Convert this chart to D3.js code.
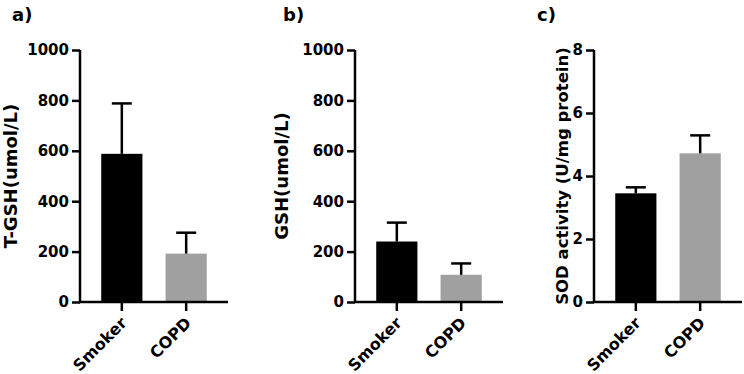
<!DOCTYPE html>
<html>
<head>
<meta charset="utf-8">
<script src="https://cdn.jsdelivr.net/npm/d3@7"></script>
<style>
  body { margin: 0; background: #fff; }
  text { font-family: "DejaVu Sans", sans-serif; font-weight: bold; fill: #000; }
</style>
</head>
<body>
<svg id="chart" width="744" height="374"></svg>
<script>
const groups = ["Smoker", "COPD"];
const colors = ["#000000", "#a0a0a0"];

// panel a) T-GSH
const tgshMean = [588, 192];
const tgshErr = [200, 83];
const tgshTicks = [0, 200, 400, 600, 800, 1000];

// panel b) GSH
const gshMean = [240, 108];
const gshErr = [75, 45];
const gshTicks = [0, 200, 400, 600, 800, 1000];

// panel c) SOD
const sodMean = [3.45, 4.72];
const sodErr = [0.19, 0.57];
const sodTicks = [0, 2, 4, 6, 8];

const svg = d3.select("#chart");

const panels = [
  { tag: "a)", tagX: 12, axisX: 80, ylab: "T-GSH(umol/L)", ylabX: 17, ylabSize: 18, mean: tgshMean, err: tgshErr, ticks: tgshTicks, max: 1000 },
  { tag: "b)", tagX: 283, axisX: 355, ylab: "GSH(umol/L)", ylabX: 288, ylabSize: 18, mean: gshMean, err: gshErr, ticks: gshTicks, max: 1000 },
  { tag: "c)", tagX: 537, axisX: 594, ylab: "SOD activity (U/mg protein)", ylabX: 568, ylabSize: 16.5, mean: sodMean, err: sodErr, ticks: sodTicks, max: 8 }
];

const yTop = 50, yBottom = 302;

panels.forEach(p => {
  const g = svg.append("g");

  const x = d3.scaleBand()
    .domain(groups)
    .range([p.axisX, p.axisX + 148])
    .paddingInner(0.36)
    .paddingOuter(0.33);

  const y = d3.scaleLinear()
    .domain([0, p.max])
    .range([yBottom, yTop]);

  // bars
  g.selectAll("rect.bar")
    .data(groups)
    .enter()
    .append("rect")
    .attr("class", "bar")
    .attr("x", d => x(d))
    .attr("width", x.bandwidth())
    .attr("y", (d, i) => y(p.mean[i]))
    .attr("height", (d, i) => y(0) - y(p.mean[i]))
    .attr("fill", (d, i) => colors[i]);

  // error bars (upper only)
  groups.forEach((d, i) => {
    const cx = x(d) + x.bandwidth() / 2;
    g.append("line")
      .attr("x1", cx).attr("x2", cx)
      .attr("y1", y(p.mean[i])).attr("y2", y(p.mean[i] + p.err[i]))
      .attr("stroke", "#000").attr("stroke-width", 2.5);
    g.append("line")
      .attr("x1", cx - 10).attr("x2", cx + 10)
      .attr("y1", y(p.mean[i] + p.err[i])).attr("y2", y(p.mean[i] + p.err[i]))
      .attr("stroke", "#000").attr("stroke-width", 2.5);
  });

  // y axis
  const yAxis = g.append("g")
    .attr("transform", `translate(${p.axisX},0)`)
    .call(d3.axisLeft(y).tickValues(p.ticks).tickSize(8).tickPadding(3).tickFormat(d3.format("d")));
  yAxis.select(".domain").attr("stroke-width", 2.5).attr("d", `M0,${yTop}V${yBottom}`);
  yAxis.selectAll(".tick line").attr("stroke-width", 2.5);
  yAxis.selectAll(".tick text").style("font-size", "15px").attr("font-family", null);

  // x axis
  const xAxis = g.append("g")
    .attr("transform", `translate(0,${yBottom})`)
    .call(d3.axisBottom(x).tickSize(9));
  xAxis.select(".domain").attr("stroke-width", 2.5).attr("d", `M${p.axisX - 1},0H${p.axisX + 148}`);
  xAxis.selectAll(".tick line").attr("stroke-width", 2.5);
  xAxis.selectAll(".tick text")
    .style("font-size", "16px")
    .attr("font-family", null)
    .attr("text-anchor", "end")
    .attr("x", 0)
    .attr("y", 0)
    .attr("dy", null)
    .attr("transform", "translate(6,22) rotate(-45)");

  // y label
  g.append("text")
    .attr("transform", `translate(${p.ylabX},${(yTop + yBottom) / 2}) rotate(-90)`)
    .attr("text-anchor", "middle")
    .style("font-size", p.ylabSize + "px")
    .text(p.ylab);

  // panel tag
  g.append("text")
    .attr("x", p.tagX)
    .attr("y", 21)
    .style("font-size", "18px")
    .text(p.tag);
});
</script>
</body>
</html>
